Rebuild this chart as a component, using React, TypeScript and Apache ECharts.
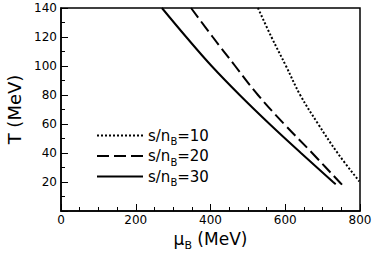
import React, { useEffect, useRef } from "react";
import * as echarts from "echarts";

// s/n_B = 10 (dotted)
const mu10 = [527, 563, 602, 640, 688, 740, 798];
const t10 = [140, 120, 100, 80, 60, 40, 20.5];
// s/n_B = 20 (dashed)
const mu20 = [348, 406, 466, 527, 597, 672, 745, 752];
const t20 = [140, 120, 100, 80, 60, 40, 20, 18.2];
// s/n_B = 30 (solid)
const mu30 = [270, 335, 403, 478, 558, 642, 728, 735];
const t30 = [140, 120, 100, 80, 60, 40, 20, 18.5];

const seriesNames = ["s/n_B=10", "s/n_B=20", "s/n_B=30"];
const xTicks = [0, 200, 400, 600, 800];
const yTicks = [20, 40, 60, 80, 100, 120, 140];

const FONT = "DejaVu Sans";

function pairs(xs: number[], ys: number[]) {
  return xs.map((x, i) => [x, ys[i]]);
}

export default function App() {
  const ref = useRef<HTMLDivElement>(null);
  useEffect(() => {
    if (!ref.current) return;
    const chart = echarts.init(ref.current, null, { renderer: "svg" });
    const legendFmt = (name: string) => {
      const [a, b] = name.split("_");
      const [sub, rest] = [b.slice(0, 1), b.slice(1)];
      return `{a|${a}}{b|${sub}}{a|${rest}}`;
    };
    chart.setOption({
      animation: false,
      backgroundColor: "#fff",
      grid: {
        left: 61,
        right: 14,
        top: 8,
        bottom: 42,
        containLabel: false,
        outerBoundsMode: "none",
        show: true,
        borderColor: "#000",
        borderWidth: 1.5,
        backgroundColor: "transparent",
      },
      legend: {
        orient: "vertical",
        left: 96,
        top: 128,
        padding: 0,
        itemWidth: 46,
        itemHeight: 14,
        itemGap: 2,
        data: seriesNames,
        formatter: legendFmt,
        itemStyle: { opacity: 0 },
        textStyle: {
          color: "#000",
          fontFamily: FONT,
          fontSize: 15,
          rich: {
            a: { fontSize: 15, fontFamily: FONT, color: "#000", lineHeight: 22, verticalAlign: "middle" },
            b: { fontSize: 10, fontFamily: FONT, color: "#000", lineHeight: 22, verticalAlign: "bottom" },
          },
        },
      },
      xAxis: {
        type: "value",
        min: 0,
        max: 800,
        interval: 200,
        name: "{mu|μ}{sub|B}{a| (MeV)}",
        nameLocation: "middle",
        nameGap: 15,
        nameTextStyle: {
          color: "#000",
          fontFamily: FONT,
          fontSize: 17,
          rich: {
            mu: { fontSize: 17, fontFamily: FONT, color: "#000", lineHeight: 24, verticalAlign: "middle" },
            sub: { fontSize: 11, fontFamily: FONT, color: "#000", lineHeight: 24, verticalAlign: "bottom" },
            a: { fontSize: 17, fontFamily: FONT, color: "#000", lineHeight: 24, verticalAlign: "middle" },
          },
        },
        axisLine: { show: true, lineStyle: { color: "#000", width: 1.5 } },
        axisTick: { show: true, inside: true, length: 7, lineStyle: { color: "#000", width: 1 } },
        minorTick: { show: true, splitNumber: 4, length: 4, lineStyle: { color: "#000", width: 1 } },
        splitLine: { show: false },
        axisLabel: {
          color: "#000",
          fontFamily: FONT,
          fontSize: 12,
          margin: 3,
          formatter: (v: number) => (xTicks.includes(v) ? String(v) : ""),
        },
      },
      yAxis: {
        type: "value",
        min: 0,
        max: 140,
        interval: 20,
        name: "T (MeV)",
        nameLocation: "middle",
        nameGap: 37,
        nameTextStyle: { color: "#000", fontFamily: FONT, fontSize: 18 },
        axisLine: { show: true, lineStyle: { color: "#000", width: 1.5 } },
        axisTick: { show: true, inside: true, length: 7, lineStyle: { color: "#000", width: 1 } },
        minorTick: { show: true, splitNumber: 2, length: 4, lineStyle: { color: "#000", width: 1 } },
        splitLine: { show: false },
        axisLabel: {
          color: "#000",
          fontFamily: FONT,
          fontSize: 12,
          margin: 4,
          formatter: (v: number) => (yTicks.includes(v) ? String(v) : ""),
        },
      },
      series: [
        {
          name: seriesNames[0],
          type: "line",
          data: pairs(mu10, t10),
          smooth: 0.4,
          symbol: "none",
          lineStyle: { color: "#000", width: 2, type: [2, 2] },
          itemStyle: { color: "#000" },
        },
        {
          name: seriesNames[1],
          type: "line",
          data: pairs(mu20, t20),
          smooth: 0.4,
          symbol: "none",
          lineStyle: { color: "#000", width: 2, type: [12, 5] },
          itemStyle: { color: "#000" },
        },
        {
          name: seriesNames[2],
          type: "line",
          data: pairs(mu30, t30),
          smooth: 0.4,
          symbol: "none",
          lineStyle: { color: "#000", width: 2, type: "solid" },
          itemStyle: { color: "#000" },
        },
      ],
    });
    return () => chart.dispose();
  }, []);
  return (
    <div
      ref={ref}
      style={{ position: "fixed", left: 0, top: 0, width: 374, height: 253 }}
    />
  );
}
